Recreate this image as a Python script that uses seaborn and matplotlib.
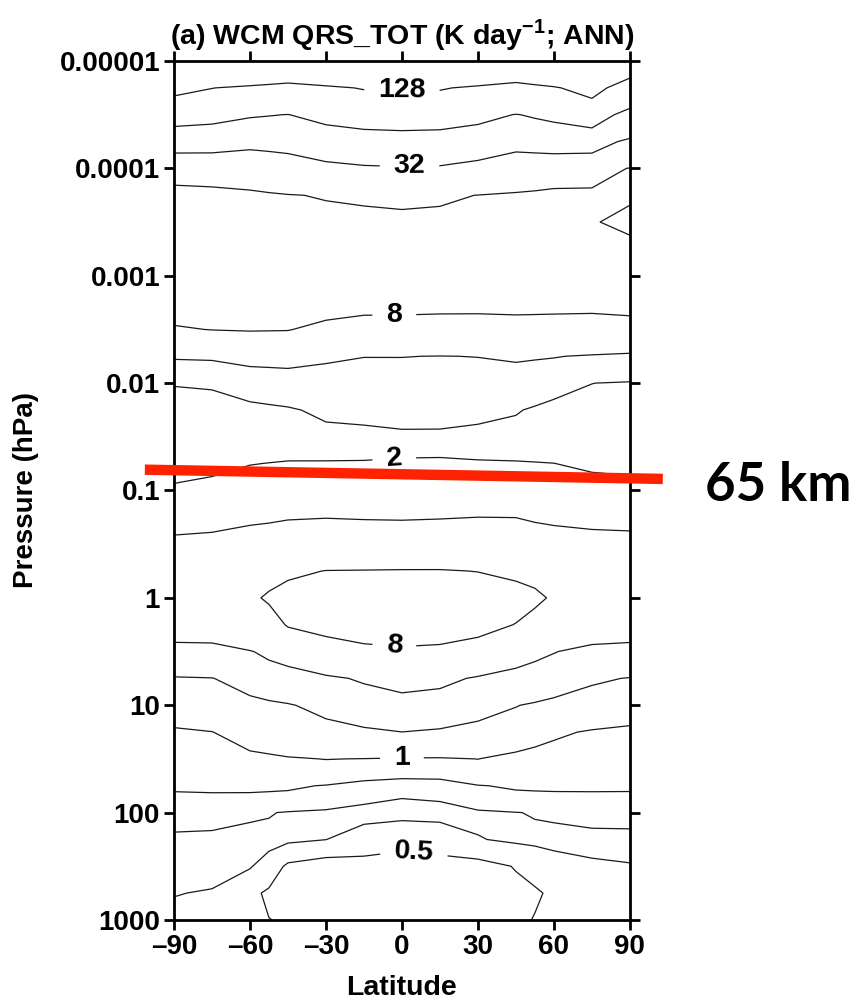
import pandas as pd
import matplotlib
matplotlib.use("Agg")
import matplotlib.pyplot as plt
from matplotlib.ticker import NullLocator
import seaborn as sns

# zonal mean shortwave heating rate (K/day)
lats = [-90, -75, -60, -52.5, -45, -30, -15, 0, 15, 30, 45, 52.5, 60, 75, 90]
pressure = [1e-5, 1.78e-5, 3.16e-5, 5.62e-5, 1e-4, 1.78e-4, 3.16e-4, 5.62e-4,
            1e-3, 1.78e-3, 3.16e-3, 5.62e-3, 0.01, 0.0178, 0.0316, 0.0562,
            0.1, 0.178, 0.316, 0.562, 1, 1.78, 3.16, 5.62,
            10, 17.8, 31.6, 56.2, 100, 178, 316, 562, 1000]
qrs = [
    [223, 220, 209, 199, 190, 198, 217, 214, 217, 198, 187, 199, 212, 239, 172],
    [144, 128.9, 118.6, 114.2, 109.9, 120.3, 130.7, 131.6, 131.6, 120.3, 108.4, 115.4, 122.8, 150.1, 94.4],
    [78.2, 74.0, 66.7, 65.1, 63.6, 73.0, 78.8, 80.4, 79.3, 73.0, 63.1, 67.0, 71.0, 82.1, 51.6],
    [39.9, 39.4, 36.0, 36.6, 37.3, 44.0, 47.8, 49.2, 48.2, 43.1, 36.8, 38.3, 39.9, 39.4, 28.6],
    [18.0, 18.5, 19.8, 21.5, 23.3, 26.7, 29.4, 30.3, 29.7, 25.8, 21.9, 20.6, 19.4, 19.0, 15.7],
    [14.4, 14.5, 14.8, 15.2, 15.7, 16.4, 16.8, 17.2, 16.9, 15.9, 15.1, 14.8, 14.5, 14.5, 15.2],
    [12.8, 12.9, 13.2, 13.5, 13.7, 13.9, 14.4, 14.6, 14.3, 13.7, 13.3, 13.0, 12.8, 15.5, 17.8],
    [11.4, 11.5, 11.7, 11.9, 12.0, 12.0, 12.2, 12.4, 12.2, 11.8, 11.6, 11.4, 11.2, 11.2, 13.5],
    [10.1, 10.2, 10.4, 10.5, 10.6, 10.4, 10.4, 10.5, 10.3, 10.2, 10.1, 9.99, 9.9, 9.9, 11.1],
    [8.94, 9.06, 9.19, 9.22, 9.25, 9.0, 8.88, 8.88, 8.82, 8.75, 8.75, 8.72, 8.69, 8.69, 9.06],
    [7.78, 8.06, 8.17, 8.14, 8.11, 7.31, 6.68, 6.63, 6.50, 6.59, 6.82, 6.80, 6.77, 6.63, 6.54],
    [4.19, 4.26, 4.66, 4.68, 4.69, 4.26, 4.03, 4.03, 3.97, 4.03, 4.23, 4.16, 4.08, 3.81, 3.58],
    [2.04, 2.10, 2.58, 2.73, 2.89, 3.07, 3.10, 3.14, 3.10, 3.07, 2.95, 2.67, 2.41, 2.01, 1.89],
    [1.61, 1.60, 1.66, 1.75, 1.85, 2.28, 2.38, 2.45, 2.43, 2.36, 2.09, 1.85, 1.64, 1.58, 1.57],
    [1.52, 1.53, 1.54, 1.53, 1.53, 1.54, 1.61, 1.77, 1.77, 1.58, 1.52, 1.53, 1.54, 1.54, 1.53],
    [1.66, 1.75, 1.97, 2.02, 2.07, 2.07, 2.07, 2.08, 2.09, 2.09, 2.07, 2.04, 2.01, 1.83, 1.77],
    [2.16, 2.36, 2.66, 2.74, 2.83, 2.87, 2.83, 2.83, 2.87, 2.89, 2.87, 2.77, 2.68, 2.48, 2.38],
    [3.07, 3.25, 3.56, 3.72, 3.89, 3.96, 3.89, 3.86, 3.92, 4.01, 3.99, 3.76, 3.56, 3.39, 3.29],
    [4.63, 4.79, 5.39, 5.39, 5.39, 5.66, 5.62, 5.58, 5.66, 5.66, 5.46, 5.41, 5.35, 4.99, 4.92],
    [6.54, 6.59, 7.31, 7.35, 7.52, 8.06, 8.11, 8.17, 8.17, 7.94, 7.46, 7.30, 7.26, 6.63, 6.63],
    [6.82, 6.82, 7.62, 8.28, 9.19, 10.1, 10.4, 10.7, 10.6, 10.1, 9.19, 8.52, 7.67, 6.82, 6.77],
    [5.24, 5.24, 6.15, 6.82, 8.22, 9.19, 9.92, 10.3, 9.99, 9.25, 7.89, 6.87, 6.36, 5.31, 5.21],
    [3.14, 3.23, 3.89, 4.44, 4.92, 5.98, 6.96, 7.31, 7.06, 6.11, 4.99, 4.50, 4.08, 3.39, 3.18],
    [1.91, 1.97, 2.45, 2.75, 3.01, 3.66, 4.23, 4.79, 4.50, 3.78, 3.20, 2.89, 2.62, 2.16, 1.95],
    [1.30, 1.39, 1.67, 1.79, 1.91, 2.35, 2.77, 3.10, 2.91, 2.46, 2.04, 1.86, 1.68, 1.40, 1.26],
    [0.92, 0.99, 1.23, 1.30, 1.37, 1.54, 1.78, 1.99, 1.83, 1.58, 1.33, 1.19, 1.08, 0.95, 0.89],
    [0.70, 0.74, 0.87, 0.91, 0.96, 1.01, 0.99, 0.95, 0.95, 1.005, 0.85, 0.80, 0.76, 0.72, 0.69],
    [0.536, 0.547, 0.559, 0.551, 0.543, 0.483, 0.354, 0.287, 0.308, 0.486, 0.536, 0.543, 0.547, 0.543, 0.540],
    [0.330, 0.321, 0.270, 0.259, 0.237, 0.213, 0.189, 0.196, 0.196, 0.218, 0.245, 0.260, 0.270, 0.299, 0.304],
    [0.210, 0.203, 0.204, 0.204, 0.215, 0.248, 0.356, 0.420, 0.379, 0.259, 0.221, 0.210, 0.206, 0.203, 0.203],
    [0.191, 0.195, 0.237, 0.328, 0.555, 0.660, 0.616, 0.637, 0.616, 0.616, 0.483, 0.415, 0.330, 0.277, 0.259],
    [0.243, 0.264, 0.420, 0.555, 0.607, 0.660, 0.637, 0.660, 0.637, 0.637, 0.595, 0.536, 0.451, 0.342, 0.330],
    [0.308, 0.354, 0.467, 0.493, 0.536, 0.616, 0.616, 0.637, 0.616, 0.595, 0.574, 0.483, 0.435, 0.354, 0.342],
]

levels = [0.25, 0.5, 1, 2, 4, 8, 16, 32, 64, 128]
# where the labels 128, 32, 8, 2, 8, 1, 0.5 sit (lat, hPa)
label_spots = [(0, 1.9e-5), (3, 9.3e-5), (-3, 2.6e-3), (-3, 0.052),
               (-3, 2.75), (0, 31), (5, 200)]

lat_ticks = [-90, -60, -30, 0, 30, 60, 90]
p_ticks = [1e-5, 1e-4, 1e-3, 1e-2, 0.1, 1, 10, 100, 1000]
p_labels = ["0.00001", "0.0001", "0.001", "0.01", "0.1", "1", "10", "100", "1000"]

# red marker line for the 65 km level (end points in lat / hPa)
mark_lat = [-101.5, 103]
mark_p = [0.064, 0.078]

df = pd.DataFrame(qrs, index=pressure, columns=lats)

sns.set_style("ticks", {"axes.edgecolor": "black", "text.color": "black",
                        "axes.labelcolor": "black", "xtick.color": "black",
                        "ytick.color": "black"})
plt.rcParams["font.family"] = ["Liberation Sans", "DejaVu Sans"]
plt.rcParams["mathtext.fontset"] = "custom"
plt.rcParams["mathtext.bf"] = "Liberation Sans:bold"
plt.rcParams["mathtext.rm"] = "Liberation Sans:bold"

fig = plt.figure(figsize=(8.57, 10.05), dpi=100)
ax = fig.add_axes([0.203, 0.0846, 0.532, 0.8547])

cs = ax.contour(df.columns.values, df.index.values, df.values, levels=levels,
                colors="#1a1a1a", linewidths=0.9)
ax.set_yscale("log")
ax.set_ylim(1000, 1e-5)
ax.set_xlim(-90, 90)

labels = ax.clabel(cs, fmt=lambda v: f"{v:g}", manual=label_spots,
                   inline=True, inline_spacing=14, fontsize=20.5)
for t in labels:
    t.set_fontweight("bold")
    t.set_color("black")

ax.set_xticks(lat_ticks)
ax.set_xticklabels([f"{v}".replace("-", "\u2013") for v in lat_ticks])
ax.set_yticks(p_ticks)
ax.set_yticklabels(p_labels)
ax.yaxis.set_minor_locator(NullLocator())
ax.tick_params(which="major", direction="out", length=7, width=2,
               top=True, right=True, labelsize=20, pad=3)
for lab in ax.get_xticklabels() + ax.get_yticklabels():
    lab.set_fontweight("bold")
for sp in ax.spines.values():
    sp.set_linewidth(2)
    sp.set_visible(True)

ax.set_xlabel("Latitude", fontsize=20.5, fontweight="bold", labelpad=11)
ax.set_ylabel("Pressure (hPa)", fontsize=20, fontweight="bold", labelpad=15)
ax.set_title(r"(a) WCM QRS_TOT (K day$^{\mathbf{-1}}$; ANN)", fontsize=20.5,
             fontweight="bold", pad=12)

ax.plot(mark_lat, mark_p, color="#ff2200", lw=7.5, clip_on=False,
        solid_capstyle="butt", zorder=5)
fig.text(0.908, 1 - 485 / 1005, "65 km", fontsize=38, fontweight="bold",
         family=["Lato", "DejaVu Sans"], ha="center", va="center")

fig.savefig("out.png", dpi=100)
